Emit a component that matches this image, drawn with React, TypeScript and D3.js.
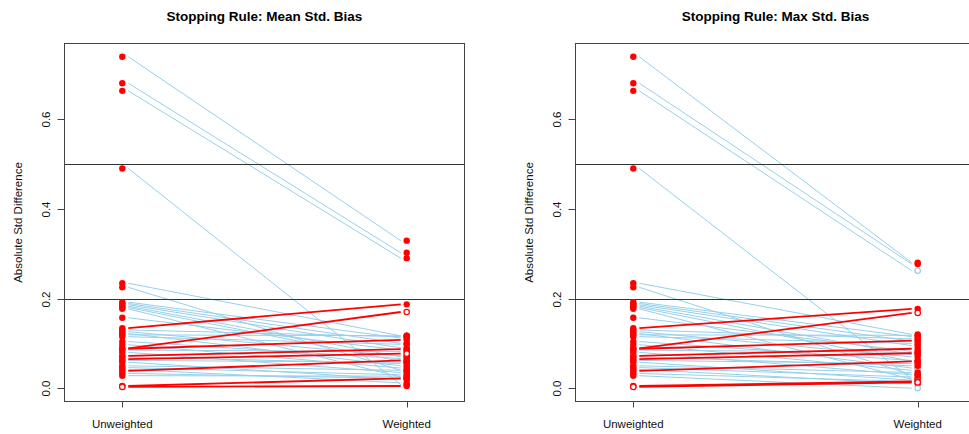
import React from 'react';
import * as d3 from 'd3';

// categories on the x axis
const groups = ['Unweighted', 'Weighted'];
const yTicks = [0, 0.2, 0.4, 0.6];
const refLines = [0.2, 0.5];
const titles = ['Stopping Rule: Mean Std. Bias', 'Stopping Rule: Max Std. Bias'];

// absolute standardized differences per covariate (same for both panels)
const unweighted = [
  0.739, 0.68, 0.663, 0.49, 0.234, 0.225, 0.192, 0.189, 0.186, 0.183,
  0.18, 0.177, 0.157, 0.134, 0.13, 0.126, 0.122, 0.119, 0.115, 0.104,
  0.097, 0.089, 0.088, 0.085, 0.08, 0.072, 0.07, 0.065, 0.062, 0.058,
  0.05, 0.046, 0.042, 0.0386, 0.033, 0.028, 0.005, 0.003,
];
const weightedMean = [
  0.329, 0.302, 0.29, 0.008, 0.117, 0.04, 0.112, 0.1, 0.09, 0.07,
  0.06, 0.025, 0.085, 0.187, 0.115, 0.072, 0.05, 0.117, 0.098, 0.066,
  0.045, 0.17, 0.108, 0.082, 0.035, 0.087, 0.055, 0.077, 0.058, 0.02,
  0.04, 0.03, 0.012, 0.062, 0.022, 0.027, 0.022, 0.005,
];
const weightedMax = [
  0.28, 0.277, 0.262, 0.02, 0.12, 0.03, 0.115, 0.105, 0.095, 0.075,
  0.06, 0.02, 0.082, 0.177, 0.11, 0.07, 0.045, 0.118, 0.1, 0.062,
  0.04, 0.168, 0.106, 0.08, 0.03, 0.088, 0.05, 0.078, 0.055, 0.018,
  0.035, 0.025, 0.01, 0.06, 0.015, 0.0, 0.015, 0.013,
];
// point styles: 'f' filled red, 'r' open red, 'b' open blue
const unwStyle = 'fffffffffffffffffffffffffrffffffffffrr';
const wStyleMean = 'fffffffffffffffffffffrfffffrffffffffff';
const wStyleMax = 'ffbffffbffffffffffffbrffffffffffffbbfr';

const panels = [
  { title: titles[0], weighted: weightedMean, wStyle: wStyleMean },
  { title: titles[1], weighted: weightedMax, wStyle: wStyleMax },
];

const box = { left: 64.5, top: 43.5, width: 400, height: 358 };
const panelShift = 511;
const font = '"Liberation Sans", Arial, Helvetica, sans-serif';
const RED = '#ff0000';
const BLUE = '#96d0ea';

const allVals = [0, ...unweighted, ...weightedMean, ...weightedMax];
const [yMin, yMax] = d3.extent(allVals) as [number, number];
const pad = (yMax - yMin) * 0.04;

const y = d3.scaleLinear()
  .domain([yMin - pad, yMax + pad])
  .range([box.top + box.height, box.top]);

const x = d3.scalePoint<string>()
  .domain(groups)
  .range([box.left + 57.8, box.left + 342.2]);

function Point({ cx, cy, style }: { cx: number; cy: number; style: string }) {
  if (style === 'f') return <circle cx={cx} cy={cy} r={3.2} fill={RED} />;
  return (
    <circle cx={cx} cy={cy} r={2.7} fill="white"
      stroke={style === 'b' ? BLUE : RED} strokeWidth={1.2} />
  );
}

function Panel({ title, weighted, wStyle, shift }: any) {
  const x1 = x(groups[0])!;
  const x2 = x(groups[1])!;
  const inset = 6;
  const idx = d3.range(unweighted.length);
  const up = idx.filter(i => weighted[i] > unweighted[i]);
  const down = idx.filter(i => weighted[i] <= unweighted[i]);
  const bottom = box.top + box.height;
  return (
    <g transform={`translate(${shift},0)`}>
      <text x={box.left + box.width / 2} y={21} textAnchor="middle"
        fontWeight="bold" fontSize={13.5} fontFamily={font}>{title}</text>

      {/* connecting lines */}
      {down.map(i => (
        <line key={'d' + i} x1={x1 + inset} x2={x2 - inset}
          y1={y(unweighted[i])} y2={y(weighted[i])}
          stroke={BLUE} strokeWidth={1} />
      ))}
      {up.map(i => (
        <line key={'u' + i} x1={x1 + inset} x2={x2 - inset}
          y1={y(unweighted[i])} y2={y(weighted[i])}
          stroke={RED} strokeWidth={1.8} />
      ))}

      {refLines.map(v => (
        <line key={v} x1={box.left} x2={box.left + box.width}
          y1={Math.round(y(v)) + 0.5} y2={Math.round(y(v)) + 0.5}
          stroke="#333" strokeWidth={1} />
      ))}

      {idx.map(i => (
        <Point key={'pu' + i} cx={x1} cy={y(unweighted[i])} style={unwStyle[i]} />
      ))}
      {idx.map(i => (
        <Point key={'pw' + i} cx={x2} cy={y(weighted[i])} style={wStyle[i]} />
      ))}

      <rect x={box.left} y={box.top} width={box.width} height={box.height}
        fill="none" stroke="#444" strokeWidth={1} />

      {/* y axis */}
      {yTicks.map(t => {
        const ty = Math.round(y(t)) + 0.5;
        return (
          <g key={t}>
            <line x1={box.left - 7} x2={box.left} y1={ty} y2={ty} stroke="#444" />
            <text transform={`translate(${box.left - 15},${ty}) rotate(-90)`}
              textAnchor="middle" fontSize={11.5} fontFamily={font} fill="#111">
              {t.toFixed(1)}
            </text>
          </g>
        );
      })}
      <text transform={`translate(21.5,${box.top + box.height / 2}) rotate(-90)`}
        textAnchor="middle" fontSize={11.5} fontFamily={font} fill="#111">
        Absolute Std Difference
      </text>

      {/* x axis */}
      {groups.map(g => (
        <g key={g}>
          <line x1={Math.round(x(g)!) + 0.5} x2={Math.round(x(g)!) + 0.5}
            y1={bottom} y2={bottom + 6} stroke="#444" />
          <text x={x(g)} y={427.5} textAnchor="middle" fontSize={11.5}
            fontFamily={font} fill="#111">{g}</text>
        </g>
      ))}
    </g>
  );
}

export default function App() {
  return (
    <svg width={969} height={434}
      style={{ position: 'absolute', left: 0, top: 0, background: 'white' }}>
      <rect width={969} height={434} fill="white" />
      {panels.map((p, k) => (
        <Panel key={k} title={p.title} weighted={p.weighted} wStyle={p.wStyle}
          shift={k * panelShift} />
      ))}
    </svg>
  );
}
